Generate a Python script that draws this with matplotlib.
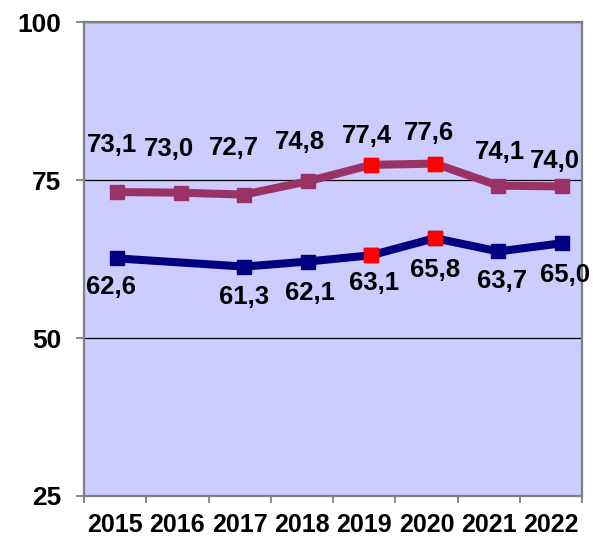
import matplotlib
matplotlib.use("Agg")
import matplotlib.pyplot as plt
import numpy as np

years = ["2015", "2016", "2017", "2018", "2019", "2020", "2021", "2022"]
upper = [73.1, 73.0, 72.7, 74.8, 77.4, 77.6, 74.1, 74.0]
lower = [62.6, None, 61.3, 62.1, 63.1, 65.8, 63.7, 65.0]  # pas de valeur 2016
highlight = [4, 5]  # 2019 et 2020 en rouge

PURPLE, NAVY, RED = "#993366", "#000080", "#ff0000"
BG, EDGE = "#ccccff", "#808080"

plt.rcParams.update({"font.family": ["Liberation Sans", "DejaVu Sans"],
                     "font.weight": "bold"})

fig = plt.figure(figsize=(5.93, 5.38), dpi=100)
ax = fig.add_axes([0.1417, 0.0781, 0.8398, 0.8809])
ax.set_facecolor(BG)

x = np.arange(len(years))
lo_x = [i for i, v in enumerate(lower) if v is not None]
lo_y = [v for v in lower if v is not None]

mk = dict(marker="s", ms=10, mew=1)
ax.plot(x, upper, color=PURPLE, lw=5.8, zorder=3, **mk)
ax.plot(lo_x, lo_y, color=NAVY, lw=5.8, zorder=3, **mk)
for i in highlight:
    ax.plot(i, upper[i], color=RED, zorder=4, **mk)
    ax.plot(i, lower[i], color=RED, zorder=4, **mk)

# decalages des etiquettes, en pixels
up_dx = [-5, -12, -10, -8, -4, -6, 2, -7]
up_dy = [47, 44, 47, 39, 29, 31, 34, 25]
lo_dx = [-6, 0, 0, 2, 3, 0, 4, 3]
lo_dy = [-29, 0, -30, -31, -28, -32, -30, -32]
for i, v in enumerate(upper):
    ax.annotate(f"{v:.1f}".replace(".", ","), (i, v),
                xytext=(up_dx[i], up_dy[i]), textcoords="offset pixels",
                ha="center", va="center", fontsize=18.5, fontweight="bold")
for i, v in enumerate(lower):
    if v is None:
        continue
    ax.annotate(f"{v:.1f}".replace(".", ","), (i, v),
                xytext=(lo_dx[i], lo_dy[i]), textcoords="offset pixels",
                ha="center", va="center", fontsize=18.5, fontweight="bold")

ax.set_ylim(25, 100)
ax.set_yticks([25, 50, 75, 100])
ax.yaxis.grid(True, color="black", lw=0.9)
ax.set_axisbelow(True)

# les points ne tombent pas exactement au centre des categories
x0, x1 = -0.519, 7.315
ax.set_xlim(x0, x1)
bounds = np.linspace(x0, x1, len(years) + 1)
ax.set_xticks((bounds[:-1] + bounds[1:]) / 2)
ax.set_xticklabels(years)
ax.set_xticks(bounds, minor=True)
ax.tick_params(axis="x", which="major", length=0, pad=12, labelsize=18)
ax.tick_params(axis="x", which="minor", length=5, width=1.3, color=EDGE)
ax.tick_params(axis="y", length=5.8, width=1.3, color=EDGE, pad=10.5,
               labelsize=19)
for s in ax.spines.values():
    s.set_color(EDGE)
    s.set_linewidth(1.6)

fig.savefig("out.png", dpi=100)
